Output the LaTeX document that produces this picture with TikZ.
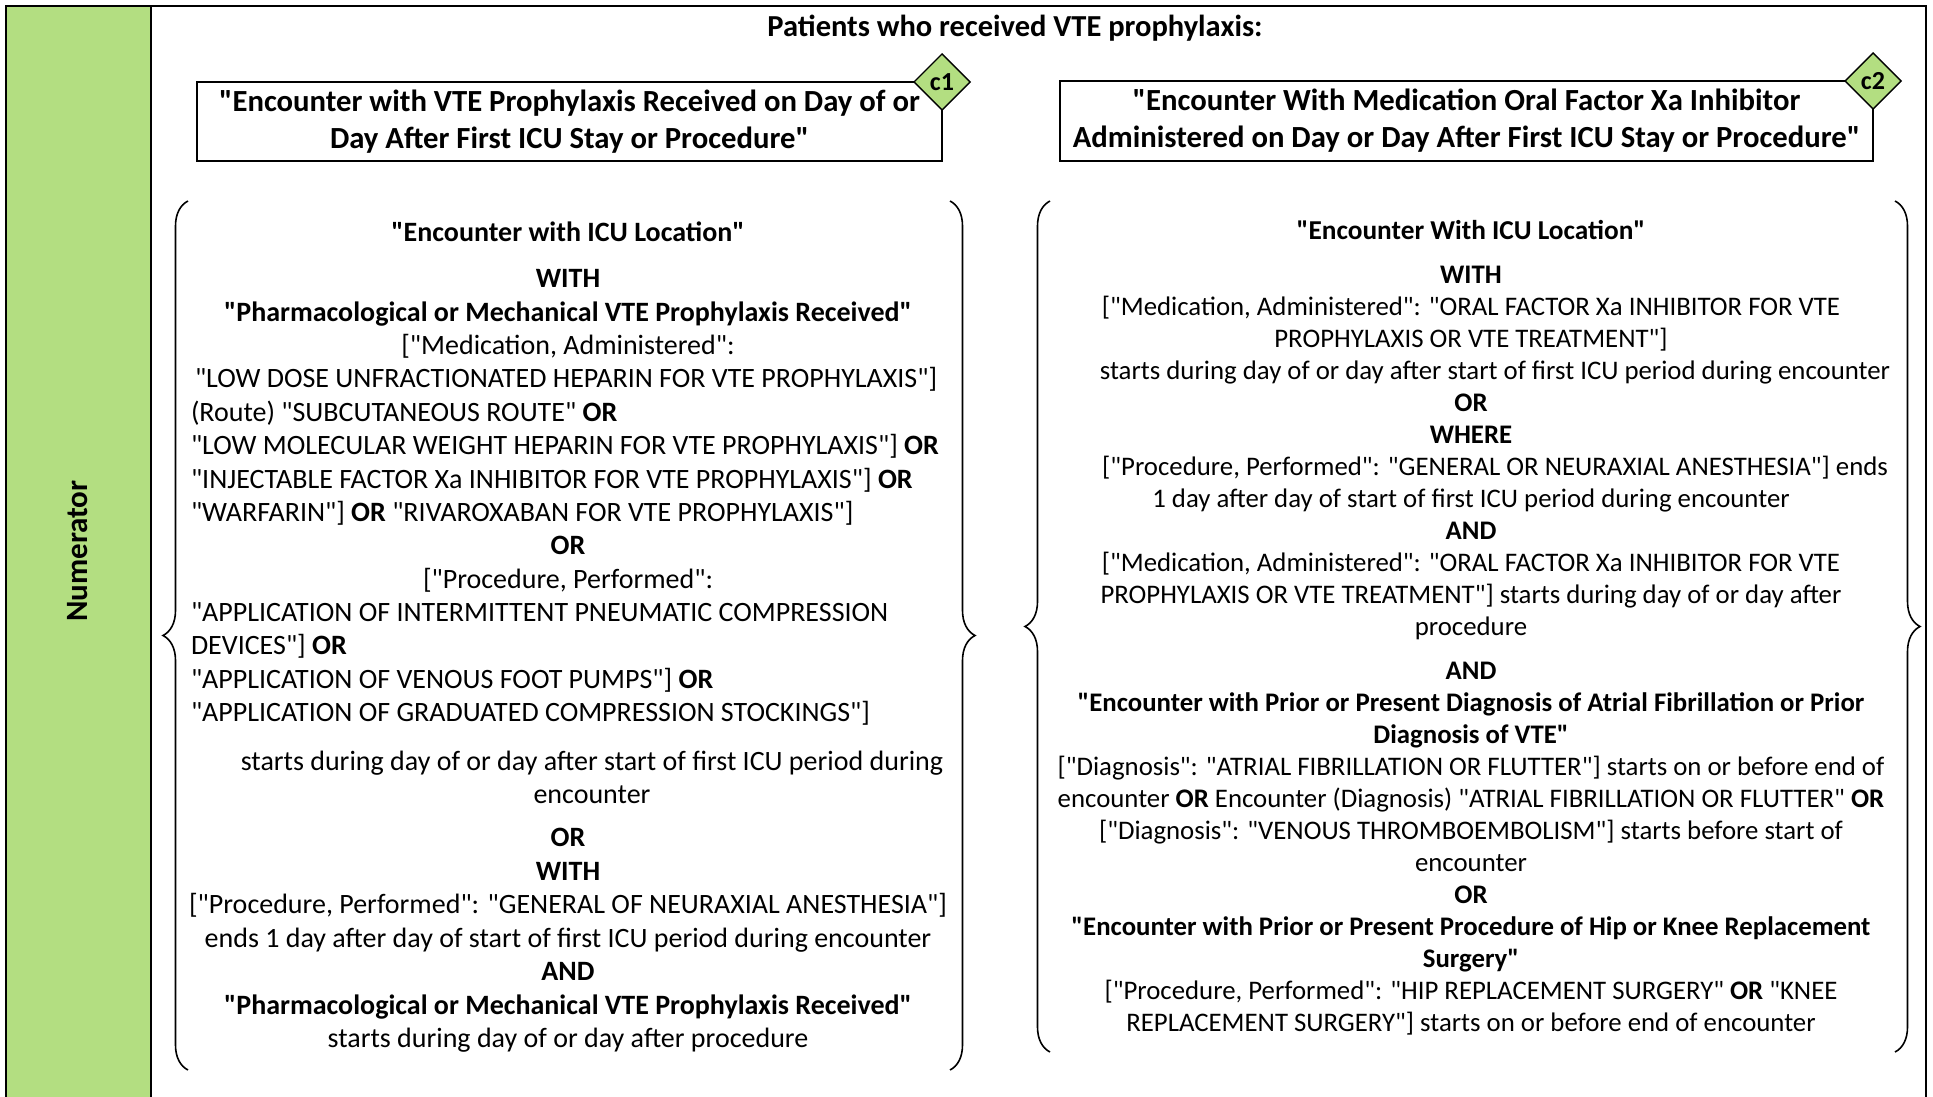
\documentclass[tikz,border=0pt]{standalone}
\usepackage{fontspec}
\setmainfont{Carlito}[Ligatures=TeXOff]
\usetikzlibrary{shapes.geometric,decorations.pathreplacing}
\definecolor{numgreen}{RGB}{179,222,129}

\begin{document}
\begin{tikzpicture}[x=1pt,y=-1pt,
  every node/.style={inner sep=0pt, outer sep=0pt},
  body/.style={font=\fontsize{28}{33.5}\selectfont, align=center},
  bodyleft/.style={font=\fontsize{28}{33.5}\selectfont, align=left},
  rbody/.style={font=\fontsize{26.8}{32}\selectfont, align=center},
  head/.style={font=\bfseries\fontsize{28}{33}\selectfont},
  rhead/.style={font=\bfseries\fontsize{27.3}{32}\selectfont},
  defbox/.style={draw, line width=1.6pt, font=\bfseries\fontsize{30.7}{37}\selectfont, align=center},
  tag/.style={diamond, draw, fill=numgreen, line width=1.4pt, minimum size=56pt, font=\bfseries\fontsize{26}{26}\selectfont},
  curly/.style={decorate, decoration={brace, amplitude=25pt}, line width=1.6pt}]

\useasboundingbox (0,0) rectangle (1933,1097);

% Frame and side bar
\fill[numgreen] (6,6) rectangle (151,1100);
\draw[line width=2.4pt] (6,1100) -- (6,6) -- (1926,6) -- (1926,1100);
\draw[line width=2.4pt] (151,6) -- (151,1100);
\node[rotate=90, font=\bfseries\fontsize{31}{31}\selectfont] (numer) at (78,551) {Numerator};

% Title
\node[font=\bfseries\fontsize{30.5}{36}\selectfont] (title) at (1015,28) {Patients who received VTE prophylaxis:};

% Definition boxes with their tags
\node[defbox, minimum width=745pt, minimum height=79pt] (def1) at (569.5,121.5)
  {"Encounter with VTE Prophylaxis Received on Day of or\\ Day After First ICU Stay or Procedure"};
\node[tag] (c1) at (def1.north east) {c1};
\node[defbox, minimum width=813pt, minimum height=80pt] (def2) at (1466.5,121)
  {"Encounter With Medication Oral Factor Xa Inhibitor\\ Administered on Day or Day After First ICU Stay or Procedure"};
\node[tag] (c2) at (def2.north east) {c2};

% Braces
\draw[curly] (188,1070) -- (188,201);
\draw[curly] (950,201) -- (950,1070);
\draw[curly] (1050,1052) -- (1050,201);
\draw[curly] (1895,201) -- (1895,1052);

% Left column
\node[head] (l1) at (568,232) {"Encounter with ICU Location"};
\node[body] (l2) at (568,314) {\textbf{WITH}\\ \textbf{"Pharmacological or Mechanical VTE Prophylaxis Received"}\\ {[}"Medication, Administered":};
\node[bodyleft, anchor=west] (l3) at (191,446.5)
  {\hspace{4pt}"LOW DOSE UNFRACTIONATED HEPARIN FOR VTE PROPHYLAXIS"]\\
   (Route) "SUBCUTANEOUS ROUTE" \textbf{OR}\\
   "LOW MOLECULAR WEIGHT HEPARIN FOR VTE PROPHYLAXIS"] \textbf{OR}\\
   "INJECTABLE FACTOR Xa INHIBITOR FOR VTE PROPHYLAXIS"] \textbf{OR}\\
   "WARFARIN"] \textbf{OR} "RIVAROXABAN FOR VTE PROPHYLAXIS"]};
\node[body] (l4) at (568,564) {\textbf{OR}\\ {[}"Procedure, Performed":};
\node[bodyleft, anchor=west] (l5) at (191,664)
  {"APPLICATION OF INTERMITTENT PNEUMATIC COMPRESSION\\
   DEVICES"] \textbf{OR}\\
   "APPLICATION OF VENOUS FOOT PUMPS"] \textbf{OR}\\
   "APPLICATION OF GRADUATED COMPRESSION STOCKINGS"]};
\node[body] (l6) at (592,777.5) {starts during day of or day after start of first ICU period during\\ encounter};
\node[body] (l7) at (568,940.5)
  {\textbf{OR}\\
   \textbf{WITH}\\
   {[}"Procedure, Performed": "GENERAL OF NEURAXIAL ANESTHESIA"]\\
   ends 1 day after day of start of first ICU period during encounter\\
   \textbf{AND}\\
   \textbf{"Pharmacological or Mechanical VTE Prophylaxis Received"}\\
   starts during day of or day after procedure};

% Right column
\node[rhead] (r1) at (1471,230) {"Encounter With ICU Location"};
\node[rbody] (r2) at (1471,453)
  {\textbf{WITH}\\
   {[}"Medication, Administered": "ORAL FACTOR Xa INHIBITOR FOR VTE\\
   PROPHYLAXIS OR VTE TREATMENT"]\\
   \hspace*{48pt}starts during day of or day after start of first ICU period during encounter\\
   \textbf{OR}\\
   \textbf{WHERE}\\
   \hspace*{48pt}{[}"Procedure, Performed": "GENERAL OR NEURAXIAL ANESTHESIA"] ends\\
   1 day after day of start of first ICU period during encounter\\
   \textbf{AND}\\
   {[}"Medication, Administered": "ORAL FACTOR Xa INHIBITOR FOR VTE\\
   PROPHYLAXIS OR VTE TREATMENT"] starts during day of or day after\\
   procedure};
\node[rbody] (r3) at (1471,848.5)
  {\textbf{AND}\\
   \textbf{"Encounter with Prior or Present Diagnosis of Atrial Fibrillation or Prior}\\
   \textbf{Diagnosis of VTE"}\\
   {[}"Diagnosis": "ATRIAL FIBRILLATION OR FLUTTER"] starts on or before end of\\
   encounter \textbf{OR} Encounter (Diagnosis) "ATRIAL FIBRILLATION OR FLUTTER" \textbf{OR}\\
   {[}"Diagnosis": "VENOUS THROMBOEMBOLISM"] starts before start of\\
   encounter\\
   \textbf{OR}\\
   \textbf{"Encounter with Prior or Present Procedure of Hip or Knee Replacement}\\
   \textbf{Surgery"}\\
   {[}"Procedure, Performed": "HIP REPLACEMENT SURGERY" \textbf{OR} "KNEE\\
   REPLACEMENT SURGERY"] starts on or before end of encounter};
\end{tikzpicture}
\end{document}
